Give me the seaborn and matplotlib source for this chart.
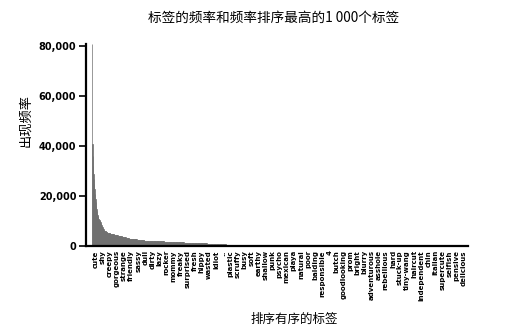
import numpy as np
import pandas as pd
import matplotlib
matplotlib.use("Agg")
import matplotlib.pyplot as plt
import seaborn as sns
from matplotlib.ticker import FuncFormatter

# ---- data ----
# first 50 tag frequencies, in rank order
head_values = [81000, 41000, 36000, 32000, 29000, 27000, 25000, 23000, 21000, 19000,
               17500, 16000, 15000, 14000, 13000, 12500, 12000, 11500, 11000, 10800,
               10500, 10200, 10000, 9700, 9400, 9000, 8600, 8200, 7800, 7400,
               7000, 6700, 6400, 6300, 6200, 6100, 6000, 5900, 5800, 5700,
               5500, 5450, 5400, 5350, 5300, 5250, 5200, 5150, 5100, 5050]
# remaining ranks as runs of (level, number of tags)
tail_levels = [5000, 4800, 4600, 4400, 4200,
               4000, 3800, 3600, 3400, 3200, 3000,
               2900, 2700, 2500, 2300, 2200,
               2100, 2000, 1900, 1800,
               1700, 1600, 1500, 1400, 1300, 1200,
               1100, 1000, 950,
               600, 500, 400, 300,
               200, 150, 120, 100]
tail_counts = [5, 5, 5, 5, 6,
               5, 5, 5, 5, 4, 3,
               8, 10, 10, 10, 8,
               15, 15, 15, 17,
               12, 12, 12, 12, 12, 12,
               26, 26, 26,
               40, 45, 45, 41,
               100, 120, 120, 128]

tick_labels = ["cute", "shy", "creepy", "gorgeous", "strange", "friendly", "sassy", "dull",
               "dirty", "lazy", "rocker", "mommy", "freaky", "surprised", "fresh", "hippy",
               "wasted", "idiot", "..", "plastic", "scruffy", "busy", "soft", "earthy",
               "shallow", "punk", "psycho", "mexican", "playa", "natural", "poor", "balding",
               "responsible", "4", "butch", "goodlooking", "prom", "bright", "blurry",
               "adventurous", "asshole", "rebellious", "hard", "stuck-up", "tiny-wang",
               "haircut", "independent", "chin", "italian", "supercute", "selfish",
               "pensive", "delicious"]

freq = np.concatenate([np.array(head_values, dtype=float),
                       np.repeat(tail_levels, tail_counts).astype(float)])
df = pd.DataFrame({"rank": np.arange(len(freq)), "freq": freq})

# ---- plot ----
sns.set_theme(style="white")
plt.rcParams["font.family"] = ["Noto Sans CJK SC", "DejaVu Sans"]
plt.rcParams["text.color"] = "black"

fig = plt.figure(figsize=(5.15, 3.3), dpi=100)
ax = fig.add_axes([0.167, 0.2545, 0.742, 0.6125])

sns.barplot(data=df, x="rank", y="freq", color="#707070", saturation=1,
            width=1.0, linewidth=0.5, edgecolor="#707070", ax=ax, native_scale=True)

ax.set_xlim(-16, 1010)
ax.set_ylim(0, 81000)
ax.set_yticks([0, 20000, 40000, 60000, 80000])
ax.yaxis.set_major_formatter(FuncFormatter(lambda v, p: f"{int(v):,}"))

tick_pos = np.arange(10, 1000, 19)[:len(tick_labels)]
ax.set_xticks(tick_pos)
ax.set_xticklabels(tick_labels, rotation=90, fontsize=5.0, fontweight="bold",
                   family="DejaVu Sans", va="top", color="black")
for lab in ax.get_yticklabels():
    lab.set_fontsize(7)
    lab.set_fontweight("bold")
    lab.set_family("DejaVu Sans")
    lab.set_color("black")

ax.tick_params(axis="x", length=0, pad=3)
ax.tick_params(axis="y", length=5, width=1.2, color="black", pad=2, left=True)

for s in ["top", "right"]:
    ax.spines[s].set_visible(False)
for s in ["left", "bottom"]:
    ax.spines[s].set_color("black")
    ax.spines[s].set_linewidth(1.6)

ax.set_xlabel("排序有序的标签", fontsize=9, color="black")
ax.xaxis.set_label_coords(0.545, -0.33)
ax.set_ylabel("出现频率", fontsize=9.5, color="black")
ax.yaxis.set_label_coords(-0.14, 0.62)
fig.text(0.532, 0.945, "标签的频率和频率排序最高的1 000个标签", ha="center", va="center",
         fontsize=9.8, color="black")

fig.savefig("out.png", dpi=100)
